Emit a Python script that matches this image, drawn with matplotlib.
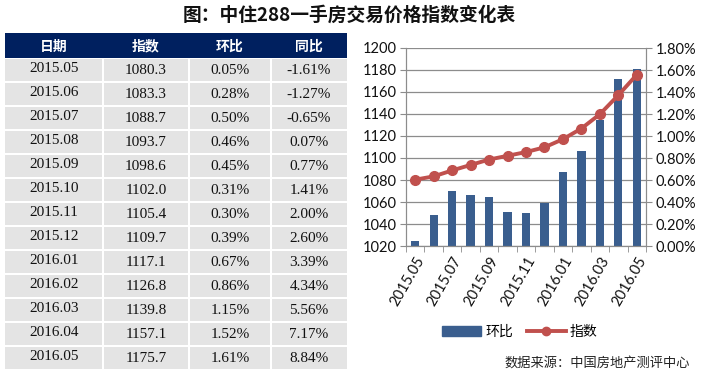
import matplotlib.pyplot as plt
from matplotlib.patches import Rectangle
from matplotlib.lines import Line2D
import numpy as np

# data
dates = ["2015.05", "2015.06", "2015.07", "2015.08", "2015.09", "2015.10", "2015.11",
         "2015.12", "2016.01", "2016.02", "2016.03", "2016.04", "2016.05"]
index_vals = [1080.3, 1083.3, 1088.7, 1093.7, 1098.6, 1102.0, 1105.4,
              1109.7, 1117.1, 1126.8, 1139.8, 1157.1, 1175.7]
mom = [0.05, 0.28, 0.50, 0.46, 0.45, 0.31, 0.30, 0.39, 0.67, 0.86, 1.15, 1.52, 1.61]
yoy = [-1.61, -1.27, -0.65, 0.07, 0.77, 1.41, 2.00, 2.60, 3.39, 4.34, 5.56, 7.17, 8.84]
headers = ["日期", "指数", "环比", "同比"]

cjk = ["Noto Sans CJK SC", "DejaVu Sans"]
num_font = "Lato"
bar_color = "#3A5E8E"
line_color = "#C0504D"
navy = "#00205F"
cell_gray = "#E4E4E4"

W, H = 713, 379
fig = plt.figure(figsize=(W / 100, H / 100), dpi=100)
fig.patch.set_facecolor("white")

fig.text(0.49, 1 - 15 / H, "图：中住288一手房交易价格指数变化表", family=cjk,
         fontsize=13.5, fontweight="bold", ha="center", va="center", color="#111111")

# ---- table (pixel coordinates) ----
tab = fig.add_axes([0, 0, 1, 1])
tab.set_xlim(0, W)
tab.set_ylim(H, 0)
tab.set_axis_off()

col_edges = [5, 103, 189, 271, 347]
header_top, header_bot = 33, 58
row_h = 24

tab.add_patch(Rectangle((col_edges[0], header_top), col_edges[-1] - col_edges[0],
                        header_bot - header_top, color=navy, lw=0))
for j, h in enumerate(headers):
    cx = (col_edges[j] + col_edges[j + 1]) / 2
    tab.text(cx, (header_top + header_bot) / 2 + 1, h, family=cjk, fontsize=10,
             fontweight="bold", color="white", ha="center", va="center")

for i in range(len(dates)):
    top = header_bot + i * row_h
    cells = [dates[i], f"{index_vals[i]:.1f}", f"{mom[i]:.2f}%", f"{yoy[i]:.2f}%"]
    for j, txt in enumerate(cells):
        x0 = col_edges[j] + (0 if j == 0 else 1)
        x1 = col_edges[j + 1] - (1 if j < 3 else 0)
        tab.add_patch(Rectangle((x0, top + 1), x1 - x0, row_h - 2, color=cell_gray, lw=0))
        dy = -2 if j == 0 else 1
        tab.text((col_edges[j] + col_edges[j + 1]) / 2, top + row_h / 2 + dy, txt,
                 family="Liberation Serif", fontsize=11, ha="center", va="center",
                 color="#111111")

# ---- chart ----
left, right, top_px, bot_px = 406, 646, 48, 246
ax2 = fig.add_axes([left / W, 1 - bot_px / H, (right - left) / W, (bot_px - top_px) / H])
ax1 = ax2.twinx()
ax1.yaxis.tick_left()
ax1.yaxis.set_label_position("left")
ax2.yaxis.tick_right()
ax1.set_zorder(ax2.get_zorder() + 1)
ax1.patch.set_visible(False)

x = np.arange(len(dates))
ax2.set_ylim(0, 1.8)
ax2.set_yticks(np.arange(0, 1.81, 0.2))
ax2.set_yticklabels([f"{v:.2f}%" for v in np.arange(0, 1.81, 0.2)])
ax2.grid(axis="y", color="#8C8C8C", lw=0.9, zorder=0)
ax2.set_axisbelow(True)
ax2.bar(x, mom, width=0.45, color=bar_color, zorder=2, label="环比")

ax1.set_ylim(1020, 1200)
ax1.set_yticks(np.arange(1020, 1201, 20))
ax1.plot(x, index_vals, color=line_color, lw=2.8, marker="o", ms=7, label="指数")

ax2.set_xlim(-0.5, len(dates) - 0.5)
ax2.set_xticks(x[::2])
ax2.set_xticklabels(dates[::2], rotation=60, ha="right", rotation_mode="anchor")
ax2.set_xticks(np.arange(-0.5, len(dates), 1), minor=True)
ax2.tick_params(axis="x", which="major", length=0, pad=6)
ax2.tick_params(axis="x", which="minor", length=4, color="#8C8C8C")

for a in (ax1, ax2):
    for s in a.spines.values():
        s.set_color("#8C8C8C")
    a.spines["top"].set_visible(False)
    a.tick_params(axis="y", length=4, color="#8C8C8C", labelsize=10.5, pad=3)
    for lab in a.get_yticklabels() + a.get_xticklabels():
        lab.set_fontfamily(num_font)
        lab.set_color("#111111")
ax2.tick_params(axis="x", labelsize=10.5)

handles = [Rectangle((0, 0), 1, 1, color=bar_color),
           Line2D([], [], color=line_color, lw=2.8, marker="o", ms=6)]
fig.legend(handles, ["环比", "指数"], loc="center", bbox_to_anchor=(520 / W, 1 - 332 / H),
           ncol=2, frameon=False, prop={"family": cjk, "size": 10},
           handlelength=2.8, handletextpad=0.3, columnspacing=1.0)

fig.text(690 / W, 1 - 363 / H, "数据来源：中国房地产测评中心", family=cjk, fontsize=9.5,
         ha="right", va="center", color="#222222")

fig.savefig("out.png", dpi=100)
